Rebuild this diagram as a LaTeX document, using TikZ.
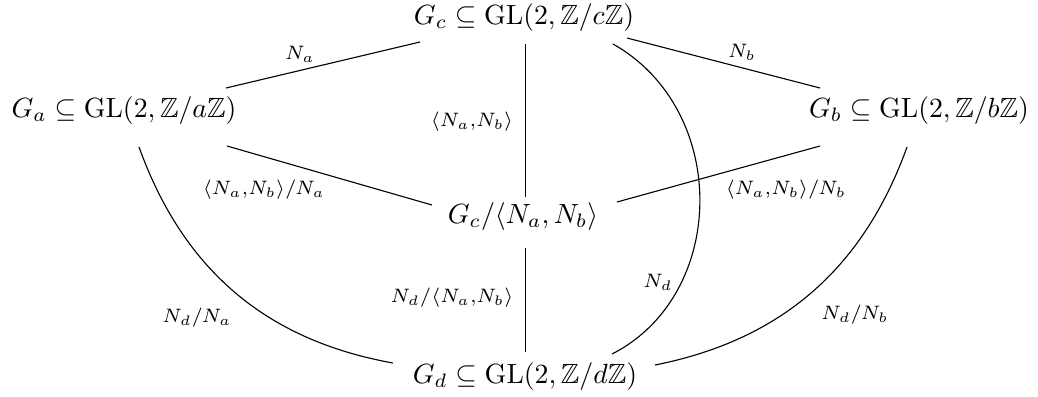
\documentclass[tikz,border=0pt]{standalone}
\usepackage{amssymb}
\begin{document}
\begin{tikzpicture}[x=0.36pt,y=-0.36pt,
  obj/.style={anchor=base,inner sep=0pt},
  lab/.style={inner sep=0pt},
  conn/.style={line width=0.4pt}]
\useasboundingbox (0,0) rectangle (1038,396);
% objects
\node[obj] (gc) at (524,24) {$G_c \subseteq \mathrm{GL}(2,\mathbb{Z}/c\mathbb{Z})$};
\node[obj] (ga) at (124,117) {$G_a \subseteq \mathrm{GL}(2,\mathbb{Z}/a\mathbb{Z})$};
\node[obj] (gb) at (919,117) {$G_b \subseteq \mathrm{GL}(2,\mathbb{Z}/b\mathbb{Z})$};
\node[obj] (gq) at (523,223) {$G_c/\langle N_a,N_b\rangle$};
\node[obj] (gd) at (525,383) {$G_d \subseteq \mathrm{GL}(2,\mathbb{Z}/d\mathbb{Z})$};
% straight connectors
\draw[conn] ([shift={(-104,18)}]gc.base) -- ([shift={(102,-29)}]ga.base);
\draw[conn] ([shift={(103,14)}]gc.base) -- ([shift={(-99,-29)}]gb.base);
\draw[conn] ([shift={(1.5,20)}]gc.base) -- ([shift={(2.5,-26)}]gq.base);
\draw[conn] ([shift={(103,29)}]ga.base) -- ([shift={(-91,-18)}]gq.base);
\draw[conn] ([shift={(-99,29)}]gb.base) -- ([shift={(94,-21)}]gq.base);
\draw[conn] ([shift={(2.5,25)}]gq.base) -- ([shift={(0.5,-31)}]gd.base);
% curved connectors
\draw[conn] ([shift={(89,20)}]gc.base) .. controls (730,110) and (728,295) .. ([shift={(87,-29)}]gd.base);
\draw[conn] ([shift={(15,30)}]ga.base) .. controls (183,269) and (265,340) .. ([shift={(-132,-20)}]gd.base);
\draw[conn] ([shift={(-12,30)}]gb.base) .. controls (863,269) and (781,340) .. ([shift={(130,-18)}]gd.base);
% labels
\node[lab] (la) at (300,54) {$\scriptstyle N_a$};
\node[lab] (lb) at (742,52) {$\scriptstyle N_b$};
\node[lab] (lab1) at (472,122) {$\scriptstyle \langle N_a,N_b\rangle$};
\node[lab] (lab2) at (264,190) {$\scriptstyle \langle N_a,N_b\rangle/N_a$};
\node[lab] (lab3) at (786,190) {$\scriptstyle \langle N_a,N_b\rangle/N_b$};
\node[lab] (lab4) at (452,298) {$\scriptstyle N_d/\langle N_a,N_b\rangle$};
\node[lab] (lnd) at (658,282) {$\scriptstyle N_d$};
\node[lab] (lda) at (197,318) {$\scriptstyle N_d/N_a$};
\node[lab] (ldb) at (855,315) {$\scriptstyle N_d/N_b$};
\end{tikzpicture}
\end{document}
